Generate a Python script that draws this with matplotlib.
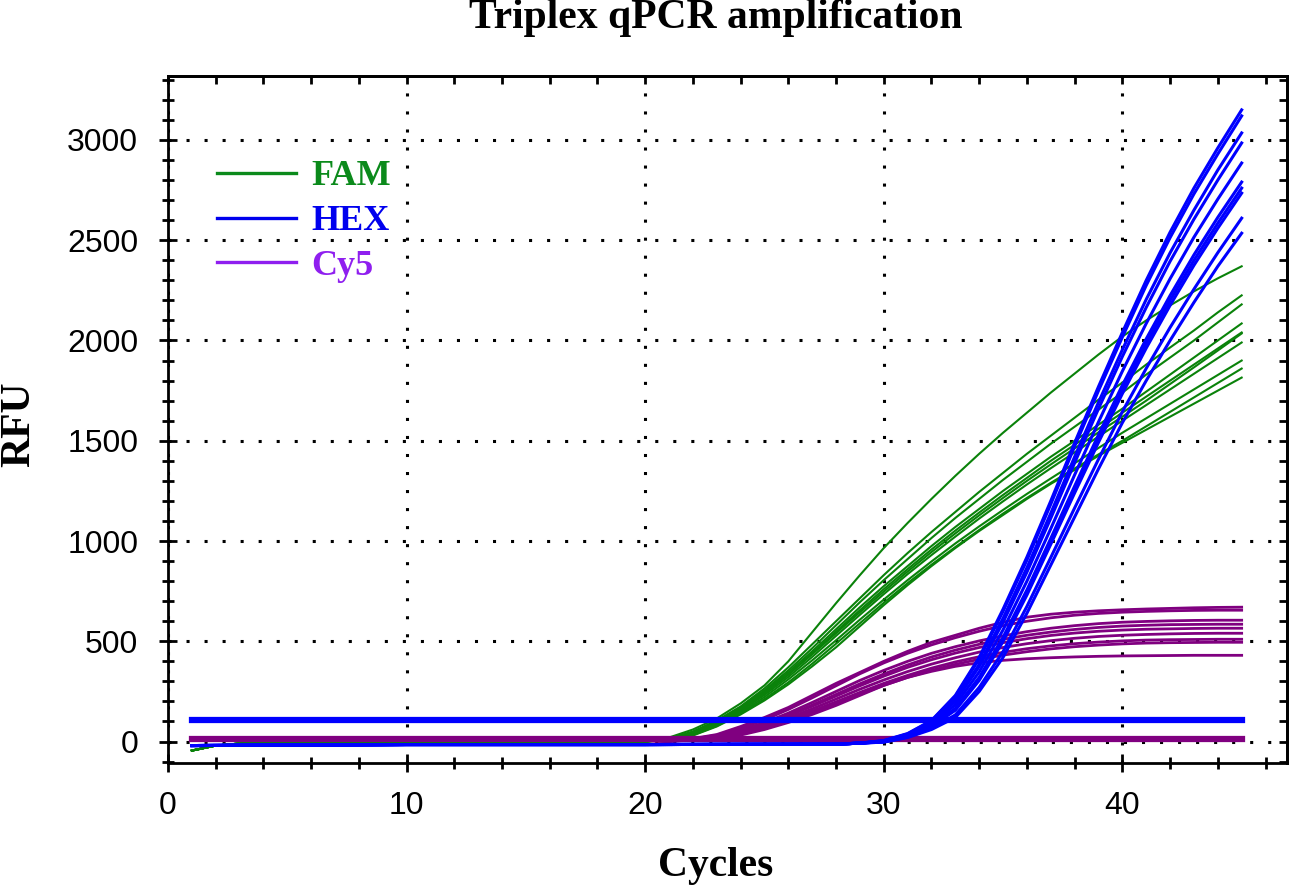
import matplotlib
matplotlib.use('Agg')
import matplotlib.pyplot as plt
from matplotlib.lines import Line2D
from matplotlib.ticker import MultipleLocator

# ---- data (RFU per cycle) ----
# FAM: baseline cycles, then one list per well for cycles 21..45
fam_cycles = [1, 2, 3, 4, 10, 15, 20] + list(range(21, 46))
fam_base = [-45, -20, -10, -5, 0, 0, 0]
fam_curves = [
    [20, 60, 115, 190, 280, 400, 545, 690, 830, 965, 1090, 1210, 1325, 1435, 1540, 1640, 1740, 1835, 1930, 2020, 2100, 2175, 2245, 2310, 2370],
    [15, 50, 105, 175, 265, 370, 485, 600, 715, 830, 940, 1045, 1145, 1245, 1340, 1435, 1525, 1615, 1705, 1790, 1880, 1965, 2050, 2140, 2225],
    [14, 48, 100, 170, 255, 355, 465, 580, 695, 805, 910, 1015, 1115, 1210, 1305, 1395, 1485, 1570, 1655, 1740, 1830, 1915, 2000, 2090, 2180],
    [12, 45, 98, 165, 250, 345, 450, 560, 670, 775, 875, 975, 1070, 1160, 1250, 1335, 1420, 1500, 1580, 1660, 1745, 1830, 1915, 2000, 2085],
    [12, 42, 95, 160, 242, 335, 440, 548, 655, 760, 860, 958, 1052, 1142, 1230, 1315, 1400, 1480, 1560, 1640, 1720, 1800, 1880, 1960, 2040],
    [11, 40, 92, 158, 240, 333, 435, 540, 645, 748, 848, 945, 1038, 1128, 1215, 1300, 1382, 1462, 1542, 1620, 1700, 1783, 1866, 1950, 2035],
    [10, 38, 88, 152, 232, 322, 422, 527, 632, 735, 835, 930, 1022, 1112, 1198, 1282, 1363, 1442, 1521, 1600, 1678, 1756, 1834, 1912, 1990],
    [9, 35, 82, 145, 222, 310, 405, 505, 608, 708, 805, 898, 988, 1073, 1155, 1235, 1312, 1388, 1464, 1540, 1612, 1684, 1756, 1828, 1900],
    [8, 32, 78, 140, 212, 295, 388, 488, 590, 692, 790, 882, 970, 1055, 1137, 1215, 1290, 1362, 1432, 1500, 1572, 1644, 1716, 1788, 1860],
    [8, 30, 75, 135, 205, 285, 375, 470, 575, 680, 780, 875, 965, 1050, 1130, 1210, 1285, 1355, 1425, 1490, 1555, 1620, 1685, 1750, 1815],
]

# HEX: baseline cycles, then cycles 30..45
hex_cycles = [1, 10, 20, 28, 29] + list(range(30, 46))
hex_base = [-20, -15, -15, -13, -8]
hex_curves = [
    [5, 40, 105, 230, 420, 660, 920, 1200, 1490, 1770, 2040, 2300, 2540, 2760, 2960, 3150],
    [4, 38, 103, 225, 412, 650, 905, 1184, 1472, 1750, 2017, 2275, 2513, 2731, 2930, 3120],
    [3, 35, 96, 209, 384, 615, 867, 1139, 1420, 1692, 1954, 2205, 2437, 2650, 2850, 3035],
    [3, 33, 93, 200, 374, 595, 845, 1114, 1390, 1660, 1920, 2165, 2395, 2605, 2800, 2985],
    [2, 30, 86, 183, 347, 557, 800, 1062, 1330, 1594, 1847, 2085, 2308, 2515, 2705, 2885],
    [0, 27, 79, 165, 320, 520, 756, 1013, 1274, 1530, 1777, 2008, 2224, 2427, 2614, 2790],
    [0, 26, 77, 161, 313, 509, 743, 998, 1257, 1511, 1756, 1985, 2200, 2400, 2585, 2760],
    [-1, 25, 75, 156, 305, 499, 731, 984, 1240, 1492, 1735, 1962, 2175, 2375, 2560, 2735],
    [-2, 22, 65, 133, 270, 449, 674, 918, 1165, 1408, 1645, 1861, 2065, 2256, 2438, 2610],
    [-3, 20, 60, 120, 250, 420, 640, 880, 1120, 1360, 1590, 1800, 2000, 2190, 2370, 2535],
]

# Cy5: baseline cycles, then cycles 21..45
cy5_cycles = [1, 10, 20] + list(range(21, 46))
cy5_base = [8, 5, 5]
cy5_curves = [
    [5, 15, 35, 75, 120, 170, 230, 290, 345, 400, 450, 495, 530, 565, 595, 620, 635, 645, 652, 657, 661, 664, 667, 669, 670],
    [4, 13, 32, 65, 108, 160, 218, 278, 338, 392, 440, 482, 518, 550, 578, 600, 617, 630, 639, 645, 649, 652, 654, 655, 655],
    [3, 11, 28, 56, 95, 142, 195, 250, 305, 355, 400, 440, 473, 502, 527, 548, 565, 578, 588, 595, 599, 602, 604, 605, 605],
    [3, 10, 26, 52, 88, 132, 182, 235, 288, 337, 382, 422, 456, 485, 510, 530, 546, 559, 569, 576, 580, 583, 584, 585, 585],
    [3, 10, 25, 50, 85, 128, 176, 227, 278, 326, 370, 408, 441, 469, 493, 513, 529, 541, 550, 556, 560, 562, 564, 565, 565],
    [2, 9, 22, 45, 78, 118, 163, 212, 261, 307, 349, 386, 418, 446, 469, 488, 503, 515, 524, 530, 534, 537, 539, 540, 540],
    [2, 8, 20, 42, 73, 110, 152, 198, 245, 290, 330, 366, 397, 423, 445, 463, 477, 488, 496, 502, 506, 508, 509, 510, 510],
    [2, 7, 18, 38, 68, 104, 145, 190, 236, 280, 320, 355, 385, 410, 431, 448, 462, 473, 481, 487, 491, 493, 494, 495, 495],
    [2, 6, 15, 32, 60, 95, 135, 180, 230, 280, 320, 350, 375, 393, 405, 413, 418, 422, 425, 427, 428, 429, 430, 430, 430],
]

# flat lines (threshold / negative controls)
flat_cycles = [1, 45]
hex_threshold = [105, 105]
cy5_flat = [14, 14]

dye_names = ['FAM', 'HEX', 'Cy5']
curve_colors = ['#0a820a', '#0000ff', '#800080']
legend_colors = ['#0b8a1b', '#0000ee', '#8f1fef']

serif = 'Liberation Serif'
sans = 'Liberation Sans'

fig = plt.figure(figsize=(12.99, 8.91), dpi=100)
ax = fig.add_axes([0.12933, 0.14366, 0.86143, 0.77104])

for c in fam_curves:
    ax.plot(fam_cycles, fam_base + c, color=curve_colors[0], lw=1.5, zorder=2)
for c in cy5_curves:
    ax.plot(cy5_cycles, cy5_base + c, color=curve_colors[2], lw=2.0, zorder=3)
ax.plot(flat_cycles, cy5_flat, color=curve_colors[2], lw=4.5, zorder=3)
for c in hex_curves:
    ax.plot(hex_cycles, hex_base + c, color=curve_colors[1], lw=2.2, zorder=4)
ax.plot(flat_cycles, hex_threshold, color=curve_colors[1], lw=4.5, zorder=5)

ax.set_xlim(0, 46.9)
ax.set_ylim(-107, 3319)
ax.xaxis.set_major_locator(MultipleLocator(10))
ax.xaxis.set_minor_locator(MultipleLocator(2))
ax.yaxis.set_major_locator(MultipleLocator(500))
ax.yaxis.set_minor_locator(MultipleLocator(100))

ax.grid(True, which='major', color='black', lw=2.2, linestyle=(0, (1, 4.9)))
ax.set_axisbelow(True)

for s in ax.spines.values():
    s.set_linewidth(2.0)
ax.tick_params(which='both', direction='inout', width=2.0, colors='black')
ax.tick_params(which='major', length=13)
ax.tick_params(which='minor', length=8)
ax.tick_params(axis='y', which='major', pad=15)
ax.tick_params(axis='x', which='major', pad=14)
for lab in ax.get_xticklabels() + ax.get_yticklabels():
    lab.set_fontfamily(sans)
    lab.set_fontsize(23)

# short inward ticks on the top and right frame
top = ax.secondary_xaxis('top')
top.xaxis.set_major_locator(MultipleLocator(10))
top.xaxis.set_minor_locator(MultipleLocator(2))
top.tick_params(which='both', direction='in', width=2.0, length=6,
                labeltop=False)
right = ax.secondary_yaxis('right')
right.yaxis.set_major_locator(MultipleLocator(500))
right.yaxis.set_minor_locator(MultipleLocator(100))
right.tick_params(which='both', direction='in', width=2.0, length=6,
                  labelright=False)
for sec in (top, right):
    for s in sec.spines.values():
        s.set_linewidth(2.0)

handles = [Line2D([], [], color=col, lw=2.4) for col in legend_colors]
leg = ax.legend(handles, dye_names, loc='upper left',
                bbox_to_anchor=(0.0438, 0.8776), frameon=False,
                borderpad=0, borderaxespad=0, handlelength=2.2,
                handletextpad=0.42, labelspacing=0.32,
                prop={'family': serif, 'weight': 'bold', 'size': 26},
                labelcolor=legend_colors)

fig.text(716 / 1299, 1 - 28 / 891, 'Triplex qPCR amplification',
         ha='center', va='baseline', family=serif, weight='bold', fontsize=30)
fig.text(716 / 1299, 1 - 876 / 891, 'Cycles',
         ha='center', va='baseline', family=serif, weight='bold', fontsize=30)
fig.text(19 / 1299, 1 - 424 / 891, 'RFU', rotation=90,
         ha='center', va='center', family=serif, weight='bold', fontsize=30)

fig.savefig('out.png', dpi=100)
